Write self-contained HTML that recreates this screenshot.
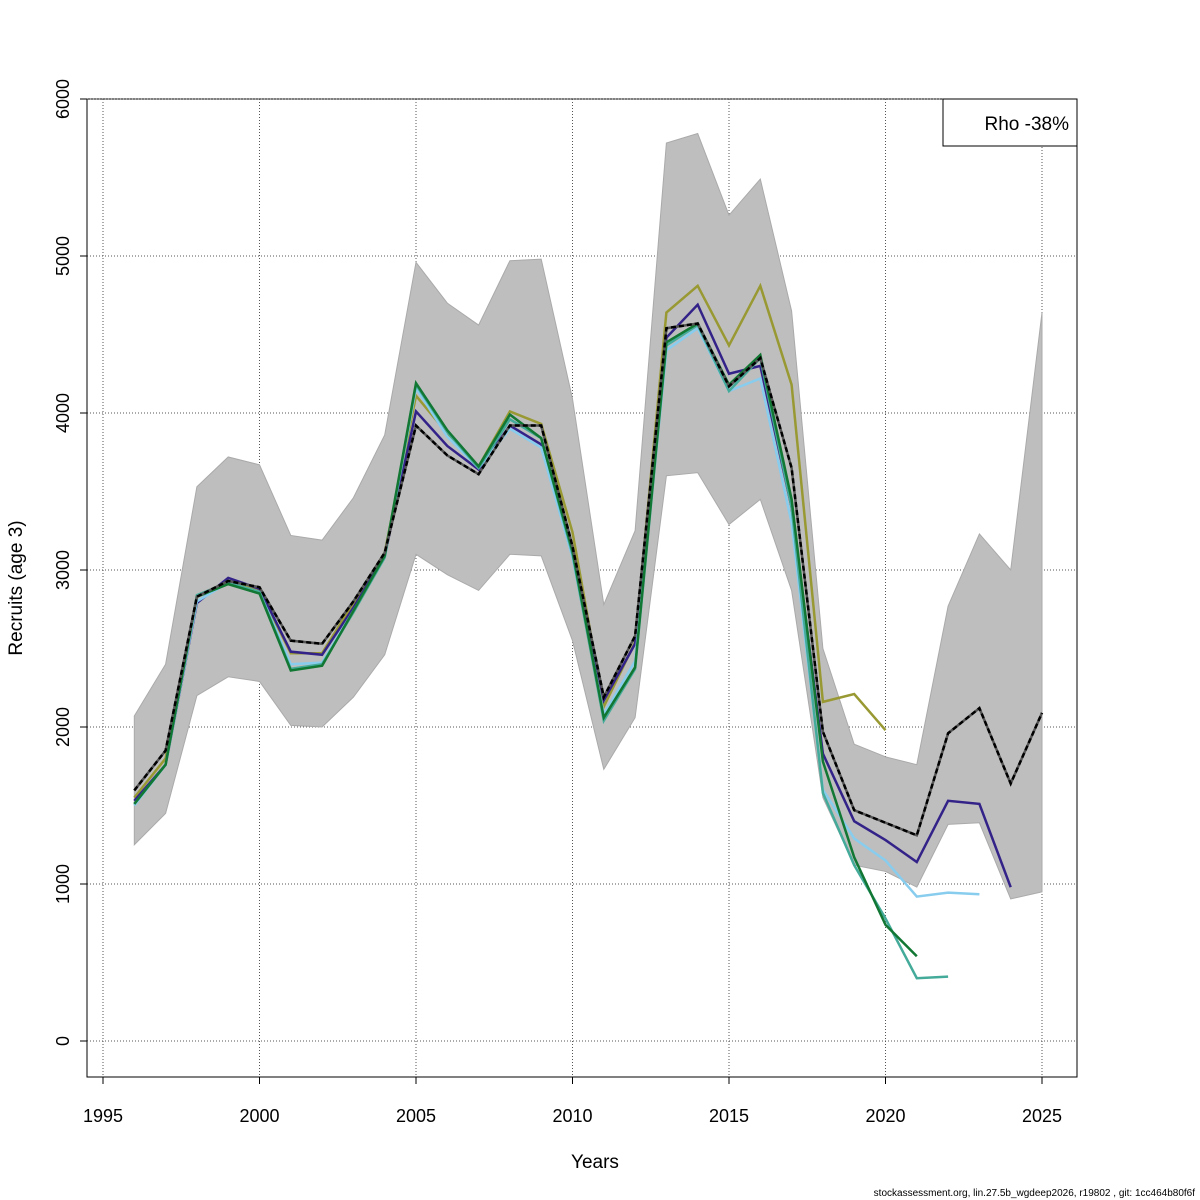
<!DOCTYPE html>
<html><head><meta charset="utf-8"><style>
body{margin:0;background:#fff;}
svg{display:block;font-family:"Liberation Sans",sans-serif;}
</style></head><body>
<svg id="chart" width="1200" height="1200">
<rect x="87" y="99" width="990" height="978" fill="none" stroke="#000" stroke-width="1"/>
<g id="grid"></g>
<g id="band"></g>
<g id="lines"></g>
<g id="axes"></g>
<text x="595" y="1168" font-size="19" text-anchor="middle">Years</text>
<text transform="translate(22,588) rotate(-90)" font-size="19" text-anchor="middle">Recruits (age 3)</text>
<g>
<rect x="943" y="99" width="134" height="47" fill="#fff" stroke="#000"/>
<text x="1069" y="130" font-size="19" text-anchor="end">Rho -38%</text>
</g>
<text x="1195" y="1196" font-size="10" text-anchor="end">stockassessment.org, lin.27.5b_wgdeep2026, r19802 , git: 1cc464b80f6f</text>
</svg>
<script>
const years=[1996,1997,1998,1999,2000,2001,2002,2003,2004,2005,2006,2007,2008,2009,2010,2011,2012,2013,2014,2015,2016,2017,2018,2019,2020,2021,2022,2023,2024,2025];
const upper=[2070,2400,3530,3720,3670,3220,3190,3460,3860,4960,4700,4560,4970,4980,4090,2780,3250,5720,5780,5260,5490,4650,2500,1890,1810,1760,2770,3230,3000,4640];
const lower=[1250,1450,2200,2320,2290,2010,2000,2190,2460,3100,2970,2870,3100,3090,2550,1730,2060,3600,3620,3290,3450,2870,1550,1120,1080,980,1380,1390,905,950];
const base=[1596,1850,2830,2930,2890,2550,2530,2800,3110,3920,3730,3610,3920,3920,3150,2190,2580,4540,4570,4170,4350,3650,1970,1470,1390,1310,1960,2120,1640,2090];
const peel1=[1530,1760,2790,2950,2880,2480,2460,2760,3090,4010,3790,3640,3920,3800,3120,2170,2530,4480,4690,4250,4300,3400,1830,1400,1280,1140,1530,1510,980];
const peel2=[1500,1760,2800,2920,2860,2400,2410,2740,3080,4160,3850,3650,3900,3780,3080,2080,2420,4400,4540,4140,4220,3300,1600,1290,1150,920,945,935];
const peel3=[1510,1760,2840,2920,2860,2370,2400,2730,3080,4180,3880,3650,3960,3840,3100,2040,2370,4430,4560,4140,4350,3400,1580,1120,780,400,410];
const peel4=[1510,1760,2830,2910,2850,2360,2390,2740,3090,4190,3890,3660,3990,3840,3120,2060,2380,4450,4570,4180,4370,3450,1780,1170,740,540];
const peel5=[1550,1800,2830,2920,2870,2470,2470,2790,3110,4110,3870,3660,4010,3930,3240,2130,2540,4640,4810,4430,4810,4180,2160,2210,1980];
const xTicks=[1995,2000,2005,2010,2015,2020,2025];
const yTicks=[0,1000,2000,3000,4000,5000,6000];
const NS="http://www.w3.org/2000/svg";
const X=y=>103+(y-1995)*(1042-103)/30;
const Y=v=>1041-v*(1041-99)/6000;
function mk(tag,parent,attrs){const e=document.createElementNS(NS,tag);for(const k in attrs)e.setAttribute(k,attrs[k]);parent.appendChild(e);return e;}
const grid=document.getElementById('grid'),band=document.getElementById('band'),lines=document.getElementById('lines'),axes=document.getElementById('axes');
xTicks.forEach(t=>{const l=mk('line',grid,{x1:X(t),x2:X(t),y1:99,y2:1077,stroke:'#555','stroke-dasharray':'1,2','stroke-width':1});

});
yTicks.forEach(t=>{const l=mk('line',grid,{x1:87,x2:1077,y1:Y(t),y2:Y(t),stroke:'#555','stroke-dasharray':'1,2','stroke-width':1});

});
let pts=years.map((y,i)=>X(y)+','+Y(upper[i]));
for(let i=years.length-1;i>=0;i--)pts.push(X(years[i])+','+Y(lower[i]));
const poly=mk('polygon',band,{points:pts.join(' '),fill:'#bebebe',stroke:'#aaa','stroke-width':1});


const series=[[peel5,'#999933','peel-2020'],[peel1,'#332288','peel-2024'],[peel2,'#88CCEE','peel-2023'],[peel3,'#44AA99','peel-2022'],[peel4,'#117733','peel-2021']];
series.forEach(s=>{const p=mk('polyline',lines,{points:s[0].map((v,i)=>X(years[i])+','+Y(v)).join(' '),fill:'none',stroke:s[1],'stroke-width':2.5});

});
const bp=base.map((v,i)=>X(years[i])+','+Y(v)).join(' ');
const b1=mk('polyline',lines,{points:bp,fill:'none',stroke:'#555','stroke-width':2.5});


const b2=mk('polyline',lines,{points:bp,fill:'none',stroke:'#000','stroke-width':2.5,'stroke-dasharray':'5,3'});


const xa=mk('line',axes,{x1:X(1995),x2:X(2025),y1:1077,y2:1077,stroke:'#000'});


xTicks.forEach(t=>{mk('line',axes,{x1:X(t),x2:X(t),y1:1077,y2:1084,stroke:'#000'});
const tx=mk('text',axes,{x:X(t),y:1122,'font-size':18,'text-anchor':'middle'});tx.textContent=t;

});
const ya=mk('line',axes,{x1:87,x2:87,y1:Y(0),y2:Y(6000),stroke:'#000'});


yTicks.forEach(t=>{mk('line',axes,{x1:80,x2:87,y1:Y(t),y2:Y(t),stroke:'#000'});
const tx=mk('text',axes,{x:0,y:0,'font-size':18,'text-anchor':'middle',transform:`translate(69,${Y(t)}) rotate(-90)`});tx.textContent=t;

});
</script>
</body></html>
